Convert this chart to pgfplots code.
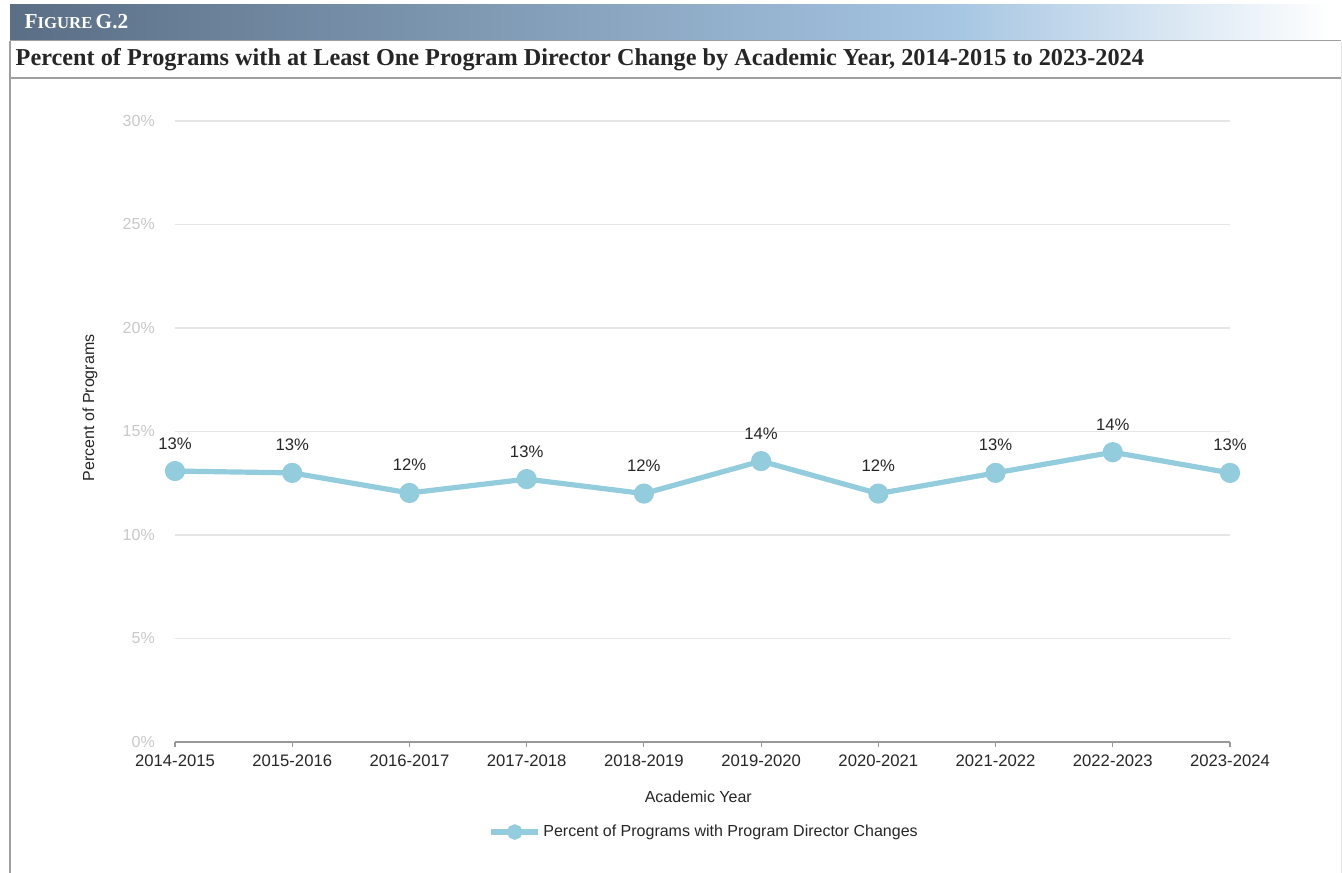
\documentclass[border=0pt]{standalone}
\usepackage{pgfplots}
\pgfplotsset{compat=1.18}
\usepackage{fontspec}
\setmainfont{Liberation Serif}
\newfontfamily\arial{Liberation Sans}
\definecolor{linec}{HTML}{93CDDD}
\definecolor{bandA}{HTML}{5A6E85}
\definecolor{bandB}{HTML}{A5C5E2}
\definecolor{gridc}{HTML}{E6E6E6}
\definecolor{ytickc}{HTML}{C8C8C8}
\definecolor{txt}{HTML}{262626}
\definecolor{framec}{HTML}{A0A0A0}
\begin{document}
\begin{tikzpicture}
\begin{scope}[x=0.75pt,y=0.75pt]
\path[use as bounding box] (0,0) rectangle (1342,873);
% header band
\shade[left color=bandA, right color=bandB] (10,868) rectangle (950,832);
\shade[left color=bandB, right color=white] (949.5,868) rectangle (1332,832);
\node[anchor=west, text=white, font=\bfseries] at (20,851) {{\fontsize{16pt}{18pt}\selectfont F}{\fontsize{12.5pt}{14pt}\selectfont IGURE} {\fontsize{16pt}{18pt}\selectfont G.2}};
% frame
\draw[framec, line width=0.75pt] (10,832) -- (1341,832);
\draw[framec, line width=0.9pt] (10,795) -- (1341,795);
\draw[framec, line width=0.9pt] (10,832) -- (10,0);
\draw[gray!20, line width=0.75pt] (1341,832) -- (1341,0);
\node[anchor=west, font=\bfseries\fontsize{18.2pt}{20pt}\selectfont, text=txt] at (11,813) {Percent of Programs with at Least One Program Director Change by Academic Year, 2014-2015 to 2023-2024};
\end{scope}
\begin{axis}[
  at={(131.25pt,98.25pt)}, anchor=south west,
  scale only axis, width=791.25pt, height=465.75pt,
  xmin=0, xmax=9, ymin=0, ymax=30,
  /pgf/number format/assume math mode=true,
  axis x line*=bottom, axis y line*=left,
  y axis line style={draw=none},
  x axis line style={draw=gray!80, line width=0.9pt},
  xtick={0,...,9},
  xticklabels={2014-2015,2015-2016,2016-2017,2017-2018,2018-2019,2019-2020,2020-2021,2021-2022,2022-2023,2023-2024},
  ytick={0,5,...,30},
  yticklabel={\pgfmathprintnumber{\tick}\%},
  tick align=outside,
  x tick style={draw=gray!80, line width=0.9pt},
  major tick length=3.75pt,
  y tick style={draw=none},
  ymajorgrids, grid style={gridc, line width=0.9pt},
  xticklabel style={font=\arial\fontsize{12.5pt}{14pt}\selectfont, text=txt, inner sep=0pt, yshift=-6pt},
  yticklabel style={font=\arial\fontsize{12pt}{14pt}\selectfont, text=ytickc, inner sep=0pt, xshift=-11.25pt},
  xlabel={Academic Year},
  xlabel style={font=\arial\fontsize{12pt}{14pt}\selectfont, text=txt, at={(axis description cs:0.496,-0.0886)}, anchor=center},
  ylabel={Percent of Programs},
  ylabel style={font=\arial\fontsize{12pt}{14pt}\selectfont, text=txt, at={(axis description cs:-0.0806,0.538)}, anchor=center, rotate=0},
  nodes near coords={\pgfmathprintnumber[fixed,precision=0]{\pgfplotspointmeta}\%},
  point meta=y,
  every node near coord/.append style={font=\arial\fontsize{12.5pt}{14pt}\selectfont, text=txt, anchor=base, inner sep=0pt, yshift=16.5pt},
  clip=false,
  legend style={draw=none, fill=none, at={(0.502,-0.145)}, anchor=center, font=\arial\fontsize{12pt}{14pt}\selectfont, text=txt, inner sep=0pt},
  legend image code/.code={\draw[mark repeat=2,mark phase=2,#1,mark size=3.8pt] plot coordinates {(0pt,0pt)(17.5pt,0pt)(35pt,0pt)};},
]
\addplot[color=linec, line width=3.9pt, mark=*, mark size=5.6pt, mark options={fill=linec, draw=none}]
coordinates {(0,13.09)(1,13.0)(2,12.03)(3,12.7)(4,12.0)(5,13.57)(6,12.0)(7,13.0)(8,14.0)(9,13.0)};
\addlegendentry{Percent of Programs with Program Director Changes}
\end{axis}
\end{tikzpicture}
\end{document}
